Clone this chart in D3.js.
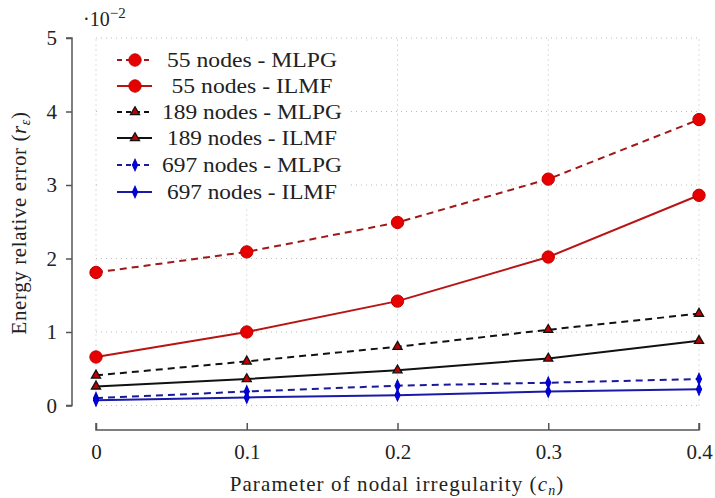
<!DOCTYPE html>
<html><head><meta charset="utf-8">
<script src="https://cdn.jsdelivr.net/npm/d3@7"></script>
<style>body{margin:0;background:#fff}svg{display:block}</style>
</head><body><svg id="c" width="715" height="498" font-family="Liberation Serif, DejaVu Serif, serif"></svg>
<script>
const xValues = [0, 0.1, 0.2, 0.3, 0.4];
const xTickLabels = ["0", "0.1", "0.2", "0.3", "0.4"];
const yTicks = [0, 1, 2, 3, 4, 5];
const seriesNames = ["55 nodes - MLPG","55 nodes - ILMF","189 nodes - MLPG","189 nodes - ILMF","697 nodes - MLPG","697 nodes - ILMF"];
const mlpg55 = [1.81, 2.09, 2.49, 3.08, 3.89];
const ilmf55 = [0.66, 1.00, 1.42, 2.02, 2.86];
const mlpg189 = [0.41, 0.60, 0.80, 1.03, 1.25];
const ilmf189 = [0.26, 0.36, 0.48, 0.64, 0.88];
const mlpg697 = [0.10, 0.19, 0.27, 0.31, 0.36];
const ilmf697 = [0.07, 0.11, 0.14, 0.19, 0.22];

const styles = [
  {line:"#a01818", dash:"7,5", marker:"circle", fill:"#e60000", stroke:"#c00000"},
  {line:"#b81414", dash:null, marker:"circle", fill:"#e60000", stroke:"#c00000"},
  {line:"#111", dash:"7,5", marker:"triangle", fill:"#c00000", stroke:"#111"},
  {line:"#111", dash:null, marker:"triangle", fill:"#c00000", stroke:"#111"},
  {line:"#1a1a9a", dash:"7,5", marker:"diamond", fill:"#0000e0", stroke:"#0000c0"},
  {line:"#1a1aa8", dash:null, marker:"diamond", fill:"#0000e0", stroke:"#0000c0"}
];
const data = [mlpg55, ilmf55, mlpg189, ilmf189, mlpg697, ilmf697];
const legendWidths = [170, 161, 180, 170, 180, 170];

const svg = d3.select("#c");
const x = d3.scaleLinear().domain([0, 0.4]).range([96, 699]);
const y = d3.scaleLinear().domain([0, 5]).range([405.5, 38]);

// grid
const grid = svg.append("g").attr("stroke", "#bbb").attr("stroke-width", 1).attr("stroke-dasharray", "1,4");
grid.selectAll("line.h").data(yTicks).join("line").attr("x1", x(0)).attr("x2", x(0.4)).attr("y1", d => y(d)).attr("y2", d => y(d));
grid.selectAll("line.v").data(xValues).join("line").attr("class","v").attr("x1", d => x(d)).attr("x2", d => x(d)).attr("y1", y(0)).attr("y2", y(5));

// axes
const yAxis = d3.axisLeft(y).tickValues(yTicks).tickFormat(d3.format("d")).tickSize(6).tickPadding(9);
const gy = svg.append("g").attr("transform", "translate(72,0)").call(yAxis);
gy.select(".domain").attr("d", `M-6,${y(5)}H0V${y(0)}H-6`).attr("stroke", "#555").attr("stroke-width", 1.5);
gy.selectAll(".tick line").attr("stroke", "#555").attr("stroke-width", 1.5);
gy.selectAll(".tick text").attr("font-size", 21).attr("font-family", "Liberation Serif").attr("fill", "#222");

const xAxis = d3.axisBottom(x).tickValues(xValues).tickFormat((d, i) => xTickLabels[i]).tickSize(-7).tickPadding(14);
const gx = svg.append("g").attr("transform", "translate(0,430)").call(xAxis);
gx.select(".domain").attr("d", `M${x(0)},-7V0H${x(0.4)}V-7`).attr("stroke", "#555").attr("stroke-width", 1.5);
gx.selectAll(".tick line").attr("stroke", "#555").attr("stroke-width", 1.5);
gx.selectAll(".tick text").attr("font-size", 21).attr("font-family", "Liberation Serif").attr("fill", "#222");

// lines
const lineGen = d3.line().x((d, i) => x(xValues[i])).y(d => y(d));
const symType = {circle: d3.symbolCircle, triangle: d3.symbolTriangle, diamond: d3.symbolDiamond};
const symSize = {circle: 120, triangle: 36, diamond: 34};
function drawMarker(g, s, cx, cy) {
  g.append("path").attr("d", d3.symbol().type(symType[s.marker]).size(symSize[s.marker])())
    .attr("fill", s.fill).attr("stroke", s.stroke).attr("stroke-width", s.marker === "triangle" ? 1.3 : 1)
    .attr("transform", s.marker === "diamond" ? `translate(${cx},${cy}) scale(0.85,1.1)` : `translate(${cx},${cy})`);
}
data.forEach((vals, k) => {
  const s = styles[k];
  const g = svg.append("g");
  g.append("path").datum(vals).attr("d", lineGen).attr("fill", "none").attr("stroke", s.line)
    .attr("stroke-width", 2).attr("stroke-dasharray", s.dash);
  vals.forEach((v, i) => drawMarker(g, s, x(xValues[i]), y(v)));
});

// legend
const lg = svg.append("g");
lg.append("rect").attr("x", 100).attr("y", 44).attr("width", 248).attr("height", 164).attr("fill", "#fff");
const legY = [60, 86, 112, 138, 165, 192];
seriesNames.forEach((name, k) => {
  const s = styles[k];
  const yy = legY[k];
  lg.append("line").attr("x1", 117).attr("x2", 152).attr("y1", yy).attr("y2", yy)
    .attr("stroke", s.line).attr("stroke-width", 2).attr("stroke-dasharray", s.dash ? "5,4" : null);
  drawMarker(lg, s, 135, yy);
  lg.append("text").attr("x", 252).attr("y", yy + 6.5).attr("text-anchor", "middle")
    .attr("font-size", 20).attr("fill", "#222")
    .attr("textLength", legendWidths[k]).attr("lengthAdjust", "spacingAndGlyphs").text(name);
});

// multiplier
const mt = svg.append("text").attr("x", 83).attr("y", 26).attr("font-size", 20).attr("fill", "#222");
mt.append("tspan").text("·10");
mt.append("tspan").attr("dy", -8).attr("font-size", 15).text("−2");

// y title
const yt = svg.append("text").attr("transform", "translate(26,223) rotate(-90)").attr("text-anchor", "middle")
  .attr("font-size", 21).attr("letter-spacing", 0.6).attr("fill", "#222");
yt.append("tspan").text("Energy relative error (");
yt.append("tspan").attr("font-style", "italic").text("r");
yt.append("tspan").attr("font-style", "italic").attr("font-size", 14).attr("dy", 4).text("ε");
yt.append("tspan").attr("dy", -4).text(")");

// x title
const xt = svg.append("text").attr("x", 397).attr("y", 491).attr("text-anchor", "middle")
  .attr("font-size", 21).attr("letter-spacing", 1.1).attr("fill", "#222");
xt.append("tspan").text("Parameter of nodal irregularity (");
xt.append("tspan").attr("font-style", "italic").text("c");
xt.append("tspan").attr("font-style", "italic").attr("font-size", 14).attr("dy", 4).text("n");
xt.append("tspan").attr("dy", -4).text(")");
</script></body></html>
